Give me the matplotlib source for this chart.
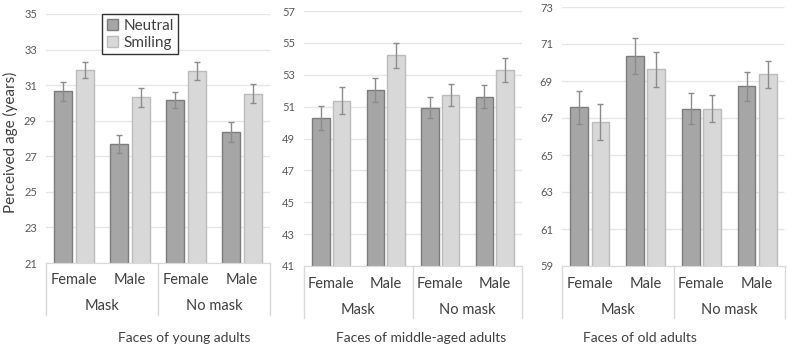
import matplotlib
matplotlib.use("Agg")
import matplotlib.pyplot as plt
import numpy as np

# ── Data ─────────────────────────────────────────────────────────────── #
sexes = ["Female", "Male", "Female", "Male"]
masks = ["Mask", "No mask"]
series = ["Neutral", "Smiling"]
panel_titles = ["Faces of young adults", "Faces of middle-aged adults", "Faces of old adults"]

young_neutral = [30.65, 27.70, 30.14, 28.35]
young_smiling = [31.84, 30.31, 31.78, 30.52]
young_neutral_err = [0.52, 0.52, 0.45, 0.55]
young_smiling_err = [0.45, 0.54, 0.50, 0.53]

middle_neutral = [50.29, 52.07, 50.94, 51.63]
middle_smiling = [51.36, 54.21, 51.74, 53.29]
middle_neutral_err = [0.73, 0.75, 0.66, 0.70]
middle_smiling_err = [0.85, 0.78, 0.69, 0.77]

old_neutral = [67.57, 70.34, 67.51, 68.71]
old_smiling = [66.80, 69.63, 67.51, 69.36]
old_neutral_err = [0.87, 0.97, 0.86, 0.79]
old_smiling_err = [0.97, 0.96, 0.71, 0.72]

young_ticks = [21, 23, 25, 27, 29, 31, 33, 35]
middle_ticks = [41, 43, 45, 47, 49, 51, 53, 55, 57]
old_ticks = [59, 61, 63, 65, 67, 69, 71, 73]

# ── Style ────────────────────────────────────────────────────────────── #
plt.rcParams["font.family"] = ["Lato", "DejaVu Sans"]
W, H = 787, 346
NEUTRAL_FC, NEUTRAL_EC = "#a6a6a6", "#7c7c7c"
SMILING_FC, SMILING_EC = "#d8d8d8", "#bcbcbc"
ERR_C = "#8c8c8c"
GRID_C = "#e6e6e6"
TEXT_C = "#404040"

fig = plt.figure(figsize=(W / 100, H / 100), dpi=100)

# pixel boxes for each panel: (left, right, top, bottom)
boxes = [(46, 270, 14, 263), (304, 522, 11, 266), (562, 785, 7, 266)]
title_x = [184, 421, 640]

panels = [
    (young_neutral, young_smiling, young_neutral_err, young_smiling_err, young_ticks),
    (middle_neutral, middle_smiling, middle_neutral_err, middle_smiling_err, middle_ticks),
    (old_neutral, old_smiling, old_neutral_err, old_smiling_err, old_ticks),
]

x = np.arange(len(sexes))
bw, off = 0.32, 0.19

for i, (neu, smi, neu_e, smi_e, ticks) in enumerate(panels):
    l, r, t, b = boxes[i]
    h_px = b - t
    ax = fig.add_axes([l / W, 1 - b / H, (r - l) / W, h_px / H])

    ax.bar(x - off, neu, bw, color=NEUTRAL_FC, edgecolor=NEUTRAL_EC,
           linewidth=1, label=series[0], zorder=2)
    ax.bar(x + off, smi, bw, color=SMILING_FC, edgecolor=SMILING_EC,
           linewidth=1, label=series[1], zorder=2)
    ax.errorbar(x - off, neu, yerr=neu_e, fmt="none", ecolor=ERR_C,
                elinewidth=1, capsize=2.5, capthick=1, zorder=3)
    ax.errorbar(x + off, smi, yerr=smi_e, fmt="none", ecolor=ERR_C,
                elinewidth=1, capsize=2.5, capthick=1, zorder=3)

    ax.set_ylim(ticks[0], ticks[-1])
    ax.set_xlim(-0.5, len(sexes) - 0.5)
    ax.set_yticks(ticks)
    ax.yaxis.grid(True, color=GRID_C, linewidth=1, zorder=0)
    ax.set_axisbelow(True)
    ax.tick_params(axis="y", length=0, pad=6.5, labelsize=8, labelcolor="#595959")
    ax.set_xticks([])
    for s in ["top", "right", "left"]:
        ax.spines[s].set_visible(False)
    ax.spines["bottom"].set_color("#d9d9d9")

    # multi-level category axis
    trans = ax.get_xaxis_transform()
    y_sex = -(17.5 / h_px)
    y_mask = -(43.5 / h_px)
    y_sep = -(52 / h_px)
    for xi, s in zip(x, sexes):
        ax.text(xi, y_sex, s, transform=trans, ha="center", va="center",
                fontsize=10.5, color=TEXT_C)
    for gi, g in enumerate(masks):
        ax.text(gi * 2 + 0.5, y_mask, g, transform=trans, ha="center", va="center",
                fontsize=10.5, color=TEXT_C)
    for xs in [-0.5, 1.5, 3.5]:
        ax.plot([xs, xs], [0, y_sep], transform=trans, color="#d9d9d9",
                linewidth=1, clip_on=False)

    fig.text(title_x[i] / W, 1 - 338 / H, panel_titles[i], ha="center", va="center",
             fontsize=10, color=TEXT_C)

    if i == 0:
        leg = ax.legend(loc="upper left", bbox_to_anchor=(102 / W, 1 - 14 / H),
                        bbox_transform=fig.transFigure, frameon=True, fancybox=False,
                        fontsize=11, handlelength=0.75, handleheight=0.75,
                        handletextpad=0.35, borderpad=0.3, labelspacing=0.2,
                        borderaxespad=0)
        leg.get_frame().set_edgecolor("#000000")
        leg.get_frame().set_linewidth(1)
        for txt in leg.get_texts():
            txt.set_color(TEXT_C)

fig.text(10 / W, 1 - 142 / H, "Perceived age (years)", rotation=90, ha="center",
         va="center", fontsize=11, color=TEXT_C)

fig.savefig("out.png", dpi=100)
